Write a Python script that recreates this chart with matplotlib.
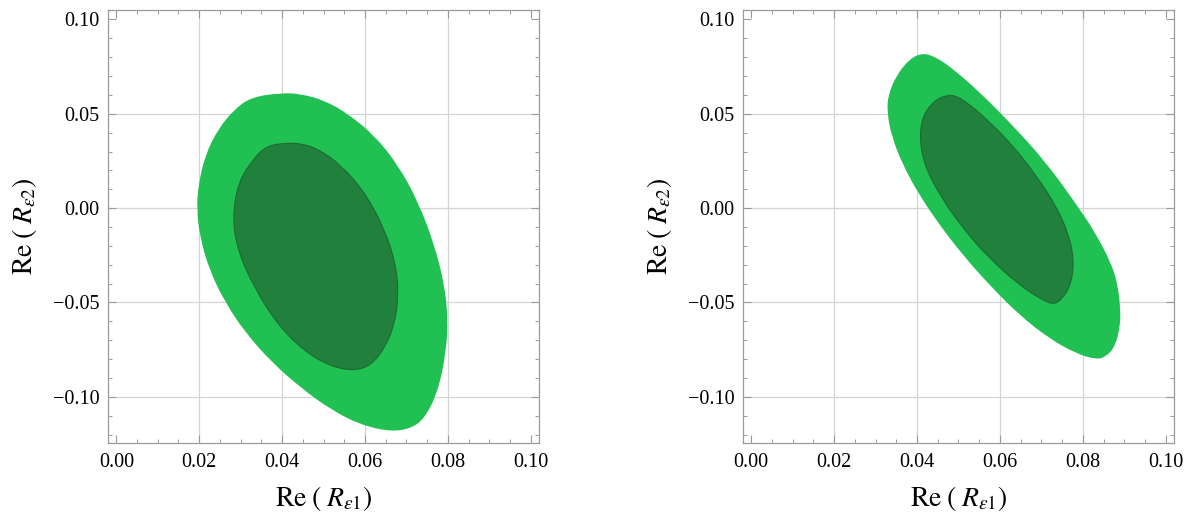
import matplotlib
matplotlib.use("Agg")
import matplotlib.pyplot as plt
import numpy as np
from matplotlib.path import Path
from matplotlib.patches import PathPatch
from matplotlib.ticker import MultipleLocator, FixedLocator

plt.rcParams['font.family'] = ['Liberation Serif', 'DejaVu Serif']
plt.rcParams['mathtext.fontset'] = 'stix'

# contour outlines (Re R_e1, Re R_e2)
# left panel, outer (light) region
left_outer_x = [0.0398, 0.0326, 0.0286, 0.0246, 0.0214, 0.0198, 0.0194, 0.0202, 0.0226,
                0.0262, 0.0310, 0.0374, 0.0447, 0.0519, 0.0591, 0.0663, 0.0712, 0.0744,
                0.0776, 0.0796, 0.0800, 0.0792, 0.0768, 0.0728, 0.0680, 0.0623, 0.0559,
                0.0503, 0.0447]
left_outer_y = [0.0611, 0.0588, 0.0526, 0.0421, 0.0279, 0.0121, 0.0000, -0.0159, -0.0335,
                -0.0497, -0.0656, -0.0815, -0.0956, -0.1070, -0.1150, -0.1185, -0.1167, -0.1114,
                -0.0973, -0.0761, -0.0585, -0.0409, -0.0197, 0.0035, 0.0228, 0.0385, 0.0500,
                0.0570, 0.0605]
# left panel, inner (dark) region
left_inner_x = [0.0414, 0.0366, 0.0334, 0.0294, 0.0280, 0.0294, 0.0334, 0.0390, 0.0455,
                0.0519, 0.0575, 0.0615, 0.0647, 0.0671, 0.0681, 0.0675, 0.0647, 0.0599,
                0.0543, 0.0487, 0.0447]
left_inner_y = [0.0345, 0.0333, 0.0271, 0.0139, -0.0055, -0.0232, -0.0426, -0.0620, -0.0761,
                -0.0841, -0.0862, -0.0832, -0.0744, -0.0620, -0.0462, -0.0303, -0.0109, 0.0085,
                0.0226, 0.0314, 0.0341]
# right panel, outer
right_outer_x = [0.0414, 0.0382, 0.0350, 0.0330, 0.0328, 0.0338, 0.0366, 0.0406, 0.0455,
                 0.0511, 0.0575, 0.0647, 0.0719, 0.0783, 0.0833, 0.0857, 0.0878, 0.0890,
                 0.0891, 0.0884, 0.0868, 0.0830, 0.0791, 0.0711, 0.0631, 0.0551, 0.0487,
                 0.0446]
right_outer_y = [0.0823, 0.0791, 0.0703, 0.0597, 0.0509, 0.0385, 0.0227, 0.0068, -0.0091,
                 -0.0250, -0.0408, -0.0567, -0.0691, -0.0770, -0.0803, -0.0786, -0.0733, -0.0627,
                 -0.0539, -0.0400, -0.0290, -0.0130, 0.0000, 0.0244, 0.0438, 0.0615, 0.0738,
                 0.0800]
# right panel, inner
right_inner_x = [0.0475, 0.0442, 0.0414, 0.0406, 0.0418, 0.0455, 0.0511, 0.0575, 0.0647,
                 0.0703, 0.0731, 0.0751, 0.0771, 0.0779, 0.0767, 0.0735, 0.0687, 0.0631,
                 0.0567, 0.0519, 0.0495]
right_inner_y = [0.0601, 0.0571, 0.0491, 0.0368, 0.0227, 0.0068, -0.0108, -0.0267, -0.0408,
                 -0.0488, -0.0511, -0.0479, -0.0408, -0.0285, -0.0144, 0.0015, 0.0174, 0.0332,
                 0.0474, 0.0562, 0.0593]

x_ticks = [0.00, 0.02, 0.04, 0.06, 0.08, 0.10]
y_ticks = [-0.10, -0.05, 0.00, 0.05, 0.10]

light = '#21c052'
dark = '#22803d'
edge = '#1b6b33'
frame = '#9a9a9a'
gridc = '#d4d4d4'


def fmt(v):
    s = f"{abs(v):.2f}"
    return ('\u2212' + s) if v < -1e-9 else s


def region(ax, xs, ys, **kw):
    # closed outline drawn as a smooth path, traced points used as control points
    pts = np.column_stack([xs, ys])
    mids = (pts + np.roll(pts, -1, axis=0)) / 2
    verts = [mids[-1]]
    codes = [Path.MOVETO]
    for p, m in zip(pts, mids):
        verts += [p, m]
        codes += [Path.CURVE3, Path.CURVE3]
    verts.append(mids[-1])
    codes.append(Path.CLOSEPOLY)
    ax.add_patch(PathPatch(Path(verts, codes), **kw))


fig = plt.figure(figsize=(11.91, 5.14), dpi=100)
ax1 = fig.add_axes([0.0907, 0.1381, 0.3619, 0.8424])
ax2 = fig.add_axes([0.6238, 0.1381, 0.3619, 0.8424])

panels = [(ax1, left_outer_x, left_outer_y, left_inner_x, left_inner_y),
          (ax2, right_outer_x, right_outer_y, right_inner_x, right_inner_y)]

for ax, ox, oy, ix, iy in panels:
    for gx in [0.02, 0.04, 0.06, 0.08]:
        ax.axvline(gx, color=gridc, lw=0.9, zorder=0)
    for gy in [-0.10, -0.05, 0.00, 0.05]:
        ax.axhline(gy, color=gridc, lw=0.9, zorder=0)
    region(ax, ox, oy, facecolor=light, edgecolor='none', lw=0, zorder=2)
    region(ax, ix, iy, facecolor=dark, edgecolor=edge, lw=0.8, zorder=3)

    ax.set_xlim(-0.002, 0.102)
    ax.set_ylim(-0.1245, 0.105)
    ax.xaxis.set_major_locator(FixedLocator(x_ticks))
    ax.yaxis.set_major_locator(FixedLocator(y_ticks))
    ax.xaxis.set_minor_locator(MultipleLocator(0.005))
    ax.yaxis.set_minor_locator(MultipleLocator(0.01))
    ax.set_xticklabels([fmt(v) for v in x_ticks])
    ax.set_yticklabels([fmt(v) for v in y_ticks])
    ax.tick_params(which='both', direction='in', top=True, right=True,
                   color=frame, labelsize=14.5, labelcolor='black')
    ax.tick_params(which='major', length=5.5, width=0.8)
    ax.tick_params(which='minor', length=3, width=0.7)
    ax.tick_params(axis='x', pad=7)
    ax.tick_params(axis='y', pad=6)
    for sp in ax.spines.values():
        sp.set_color(frame)
        sp.set_linewidth(0.9)
    ax.set_xlabel(r'$\mathrm{Re}\;(\;R_{\epsilon 1})$', fontsize=20, labelpad=9)
    ax.set_ylabel(r'$\mathrm{Re}\;(\;R_{\epsilon 2})$', fontsize=20, labelpad=10)

fig.savefig('out.png', dpi=100)
